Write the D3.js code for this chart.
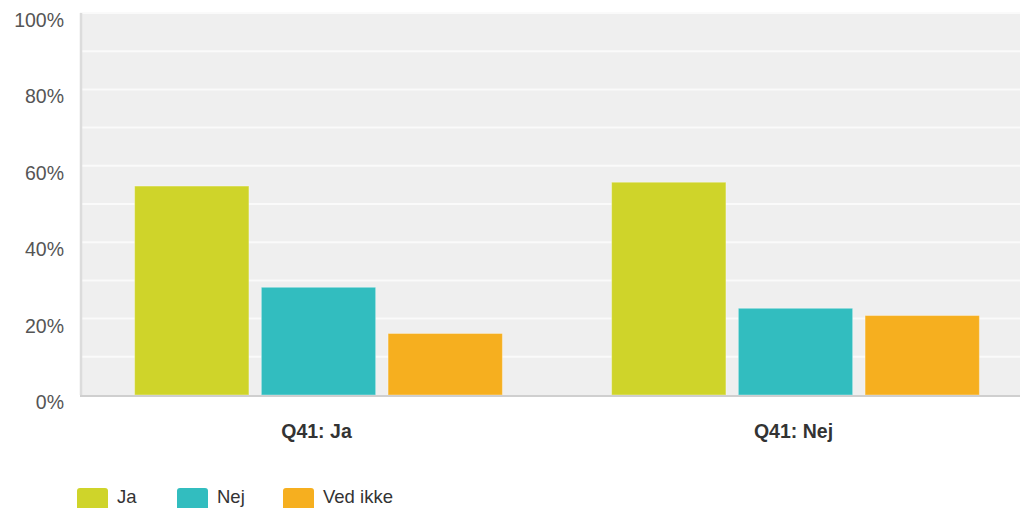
<!DOCTYPE html>
<html>
<head>
<meta charset="utf-8">
<script src="https://cdn.jsdelivr.net/npm/d3@7"></script>
<style>
  body { margin: 0; background: #fff; }
  svg { display: block; font-family: "Liberation Sans", Arial, sans-serif; }
</style>
</head>
<body>
<div id="chart"></div>
<script>
// values, in percent
var categories = ["Q41: Ja", "Q41: Nej"];
var seriesNames = ["Ja", "Nej", "Ved ikke"];
var jaValues = [54.7, 55.7];
var nejValues = [28.2, 22.7];
var vedIkkeValues = [16.1, 20.8];
var yTicks = [0, 20, 40, 60, 80, 100];

var seriesValues = [jaValues, nejValues, vedIkkeValues];
var colors = ["#cfd42a", "#32bdbf", "#f6af1f"];

var width = 1020, height = 508;
var plot = { left: 80, top: 13, bottom: 395, right: 1034 };

var svg = d3.select("#chart").append("svg")
  .attr("width", width)
  .attr("height", height);

var y = d3.scaleLinear().domain([0, 100]).range([plot.bottom, plot.top]);

var x0 = d3.scaleBand()
  .domain(categories)
  .range([plot.left, plot.right]);

var x1 = d3.scaleBand()
  .domain(seriesNames)
  .range([0, x0.bandwidth()])
  .paddingInner(0.098)
  .paddingOuter(0.431);

var color = d3.scaleOrdinal().domain(seriesNames).range(colors);

// plot background
svg.append("rect")
  .attr("x", plot.left)
  .attr("y", plot.top)
  .attr("width", plot.right - plot.left)
  .attr("height", plot.bottom - plot.top)
  .attr("fill", "#efefef");

// gridlines every 10%
svg.append("g")
  .selectAll("line")
  .data(d3.range(10, 101, 10))
  .enter()
  .append("line")
  .attr("x1", plot.left)
  .attr("x2", plot.right)
  .attr("y1", function(d) { return y(d); })
  .attr("y2", function(d) { return y(d); })
  .attr("stroke", "#fafafa")
  .attr("stroke-width", 2);

// left axis line
svg.append("line")
  .attr("x1", plot.left + 1).attr("x2", plot.left + 1)
  .attr("y1", plot.top).attr("y2", plot.bottom)
  .attr("stroke", "#dcdcdc")
  .attr("stroke-width", 2.5);

// y tick labels
svg.append("g")
  .selectAll("text")
  .data(yTicks)
  .enter()
  .append("text")
  .attr("x", 64)
  .attr("y", function(d) { return y(d) + 14; })
  .attr("text-anchor", "end")
  .attr("font-size", 19.5)
  .attr("fill", "#555")
  .text(function(d) { return d + "%"; });

// bars
var rows = categories.map(function(c, i) {
  return { category: c, values: seriesNames.map(function(s, j) {
    return { name: s, value: seriesValues[j][i] };
  }) };
});

var groups = svg.append("g")
  .selectAll("g")
  .data(rows)
  .enter()
  .append("g")
  .attr("transform", function(d) { return "translate(" + x0(d.category) + ",0)"; });

groups.selectAll("rect")
  .data(function(d) { return d.values; })
  .enter()
  .append("rect")
  .attr("x", function(d) { return x1(d.name); })
  .attr("y", function(d) { return y(d.value); })
  .attr("width", x1.bandwidth())
  .attr("height", function(d) { return y(0) - y(d.value); })
  .attr("fill", function(d) { return color(d.name); })
  .attr("stroke", "rgba(255,255,255,0.35)")
  .attr("stroke-width", 1);

// bottom axis line
svg.append("line")
  .attr("x1", plot.left).attr("x2", plot.right)
  .attr("y1", plot.bottom + 1).attr("y2", plot.bottom + 1)
  .attr("stroke", "#cfcfcf")
  .attr("stroke-width", 2);

// category labels
svg.append("g")
  .selectAll("text")
  .data(categories)
  .enter()
  .append("text")
  .attr("x", function(d) { return x0(d) + x0.bandwidth() / 2 - 2; })
  .attr("y", 438)
  .attr("text-anchor", "middle")
  .attr("font-size", 19.5)
  .attr("font-weight", "bold")
  .attr("fill", "#333")
  .text(function(d) { return d; });

// legend
var legendX = [77, 177, 283];
var legend = svg.append("g")
  .selectAll("g")
  .data(seriesNames)
  .enter()
  .append("g")
  .attr("transform", function(d, i) { return "translate(" + legendX[i] + ",488)"; });

legend.append("rect")
  .attr("width", 31)
  .attr("height", 24)
  .attr("rx", 3)
  .attr("fill", function(d) { return color(d); });

legend.append("text")
  .attr("x", 40)
  .attr("y", 15)
  .attr("font-size", 18.5)
  .attr("fill", "#333")
  .text(function(d) { return d; });
</script>
</body>
</html>
